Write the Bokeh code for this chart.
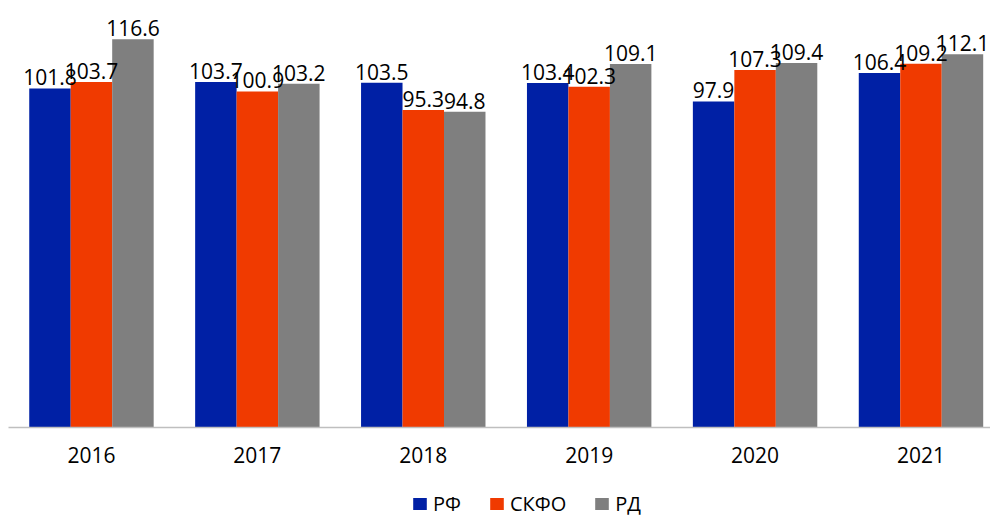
from bokeh.plotting import figure
from bokeh.layouts import column
from bokeh.models import ColumnDataSource, Range1d, FixedTicker, Legend, LegendItem
from bokeh.transform import dodge
from bokeh.embed import file_html
from bokeh.resources import INLINE
from bokeh.core.properties import value

years = ["2016", "2017", "2018", "2019", "2020", "2021"]
rf = [101.8, 103.7, 103.5, 103.4, 97.9, 106.4]
skfo = [103.7, 100.9, 95.3, 102.3, 107.3, 109.2]
rd = [116.6, 103.2, 94.8, 109.1, 109.4, 112.1]
series_names = ["РФ", "СКФО", "РД"]
colors = ["#0020A5", "#F03A00", "#7F7F7F"]

xs = list(range(len(years)))
src = ColumnDataSource(dict(
    x=xs, rf=rf, skfo=skfo, rd=rd,
    rf_t=[f"{v:.1f}" for v in rf],
    skfo_t=[f"{v:.1f}" for v in skfo],
    rd_t=[f"{v:.1f}" for v in rd],
))

p = figure(frame_width=982, frame_height=419, output_backend="svg", toolbar_location=None,
           x_range=Range1d(-0.5, 5.419), y_range=Range1d(0, 125.8),
           min_border_left=8, min_border_right=0, min_border_top=8, min_border_bottom=62)
p.outline_line_color = None
p.xgrid.visible = False
p.ygrid.visible = False
p.yaxis.visible = False

fields = ["rf", "skfo", "rd"]
offsets = [-0.25, 0.0, 0.25]
for f, off, c in zip(fields, offsets, colors):
    p.vbar(x=dodge("x", off), top=f, width=0.25, bottom=0, source=src,
           fill_color=c, line_color=None)
for f, off in zip(fields, offsets):
    p.text(x=dodge("x", off), y=f, text=f + "_t", source=src,
           text_align="center", text_baseline="bottom", y_offset=-3,
           text_font=value("Open Sans"), text_font_size="21px", text_color="#000000")

ax = p.xaxis[0]
ax.ticker = FixedTicker(ticks=xs)
ax.major_label_overrides = {i: y for i, y in zip(xs, years)}
ax.major_tick_line_color = None
ax.minor_tick_line_color = None
ax.axis_line_color = "#BFBFBF"
ax.axis_line_width = 1.5
ax.major_label_standoff = 13
ax.major_label_text_font = "Open Sans"
ax.major_label_text_font_size = "21px"
ax.major_label_text_color = "#000000"

# legend strip (swatch renderers sit outside the visible range)
lg = figure(width=990, height=30, output_backend="svg", toolbar_location=None,
            x_range=Range1d(0, 1), y_range=Range1d(0, 1),
            min_border_left=0, min_border_right=0, min_border_top=0, min_border_bottom=0)
lg.outline_line_color = None
lg.xaxis.visible = False
lg.yaxis.visible = False
lg.xgrid.visible = False
lg.ygrid.visible = False
dummies = [lg.vbar(x=[-10], top=[-10], bottom=[-11], width=0.1, fill_color=c, line_color=None)
           for c in colors]
legend = Legend(items=[LegendItem(label=n, renderers=[r]) for n, r in zip(series_names, dummies)],
                orientation="horizontal", location=(403, 2),
                glyph_width=17, glyph_height=15, label_standoff=5, spacing=27,
                label_text_font="Open Sans", label_text_font_size="20px",
                label_text_color="#000000", border_line_color=None,
                background_fill_alpha=0, margin=0, padding=0)
lg.add_layout(legend, "center")

layout = column(p, lg, spacing=0)
open("out.html", "w").write(file_html(layout, INLINE))
